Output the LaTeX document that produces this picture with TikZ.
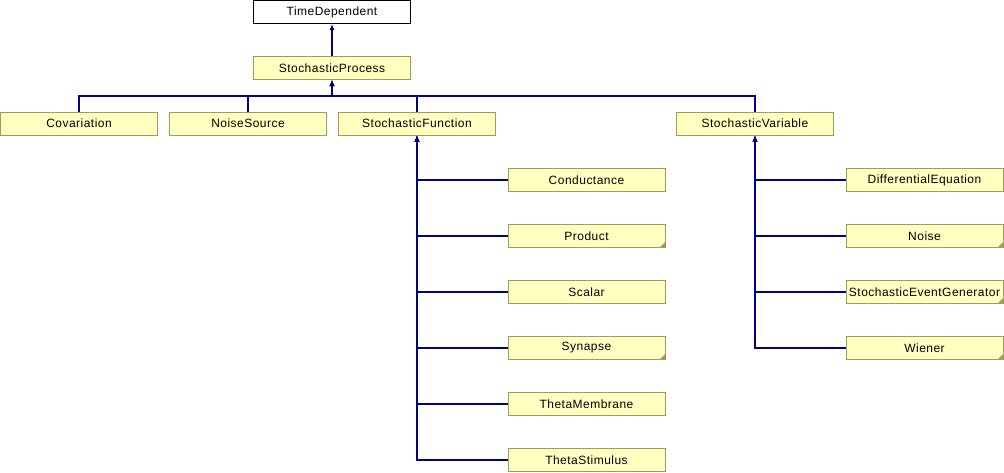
\documentclass[tikz,border=0pt]{standalone}
\usepackage{fontspec}
\setmainfont{Liberation Sans}[LetterSpace=4]
\usetikzlibrary{arrows.meta}
\definecolor{boxfill}{HTML}{FFFFC0}
\definecolor{boxline}{HTML}{9E9E5C}
\definecolor{linkcol}{HTML}{00008B}
\definecolor{cornercol}{HTML}{9E9E5C}
\tikzset{
  cls/.style={draw=boxline, fill=boxfill, line width=1pt, minimum width=157pt, minimum height=23pt, inner sep=0pt, font=\fontsize{12}{14}\selectfont},
  topcls/.style={cls, draw=black, fill=white},
  link/.style={draw=linkcol, line width=1.1pt, -{Latex[length=6pt,width=5pt]}}
}
\begin{document}
\begin{tikzpicture}[x=1pt,y=-1pt]
\useasboundingbox (0,0) rectangle (1004,472);
\node[topcls] (td) at (332,12) {TimeDependent};
\node[cls] (sp) at (332,68) {StochasticProcess};
\node[cls] (cov) at (79,123.5) {Covariation};
\node[cls] (ns) at (248,123.5) {NoiseSource};
\node[cls] (sf) at (417,123.5) {StochasticFunction};
\node[cls] (sv) at (755,123.5) {StochasticVariable};
\node[cls] (cond) at (586.5,180) {Conductance};
\node[cls] (prod) at (586.5,236) {Product};
\node[cls] (scal) at (586.5,292) {Scalar};
\node[cls] (syn) at (586.5,348) {Synapse};
\node[cls] (tm) at (586.5,404) {ThetaMembrane};
\node[cls] (ts) at (586.5,460) {ThetaStimulus};
\node[cls] (de) at (924.5,180) {DifferentialEquation};
\node[cls] (noi) at (924.5,236) {Noise};
\node[cls] (seg) at (924.5,292) {StochasticEventGenerator};
\node[cls] (wi) at (924.5,348) {Wiener};
\foreach \n in {prod,syn,noi,seg,wi}{
  \fill[cornercol] ([xshift=-6pt,yshift=0.5pt]\n.south east) -- ([xshift=-0.5pt,yshift=0.5pt]\n.south east) -- ([xshift=-0.5pt,yshift=6pt]\n.south east) -- cycle;
}
\coordinate (bus) at (332,96);
\draw[link] (sp.north) -- (td.south);
\foreach \c in {cov,ns,sf,sv}{
  \draw[link] (\c.north) |- (bus) -- (sp.south);
}
\foreach \c in {cond,prod,scal,syn,tm,ts}{
  \draw[link] (\c.west) -| (sf.south);
}
\foreach \c in {de,noi,seg,wi}{
  \draw[link] (\c.west) -| (sv.south);
}
\end{tikzpicture}
\end{document}
